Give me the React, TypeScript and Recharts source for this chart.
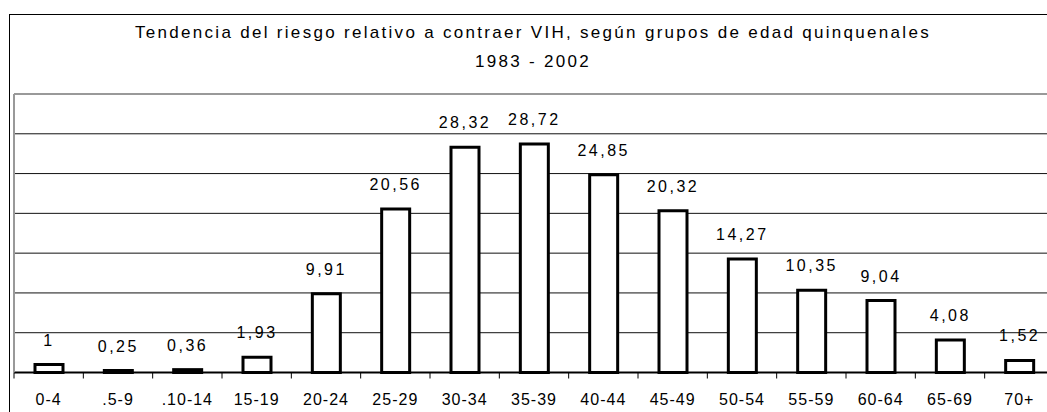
import React from "react";
import { BarChart, Bar, XAxis, YAxis, CartesianGrid, ReferenceLine, LabelList } from "recharts";

const titleLine1 = "Tendencia del riesgo relativo a contraer VIH, según grupos de edad quinquenales";
const titleLine2 = "1983 - 2002";

const categories = ["0-4", ".5-9", ".10-14", "15-19", "20-24", "25-29", "30-34", "35-39", "40-44", "45-49", "50-54", "55-59", "60-64", "65-69", "70+"];
const values = [1, 0.25, 0.36, 1.93, 9.91, 20.56, 28.32, 28.72, 24.85, 20.32, 14.27, 10.35, 9.04, 4.08, 1.52];
const yTicks = [0, 5, 10, 15, 20, 25, 30, 35];

const data = categories.map((c, i) => ({ name: c, value: values[i] }));

const FONT = "'Liberation Sans', Arial, Helvetica, sans-serif";
const CHART_W = 1070;
const CHART_H = 412;
const MARGIN = { top: 94, right: 16, bottom: 0, left: 13 };
const Y_W = 1;
const PLOT_W = CHART_W - MARGIN.left - MARGIN.right - Y_W;
const BAND = PLOT_W / categories.length;

const fmt = (v: number) => String(v).replace(".", ",");

const XTick = (props: any) => {
  const { x, y, payload } = props;
  const tx = x - BAND / 2;
  return (
    <g>
      <line x1={tx} x2={tx} y1={y} y2={y + 6} stroke="#000" strokeWidth={1} />
      <text x={x} y={y + 32.5} textAnchor="middle" fontFamily={FONT} fontSize={16} letterSpacing={1} fill="#000">
        {payload.value}
      </text>
    </g>
  );
};

const EmptyTick = () => <g />;

export default function App() {
  const top = yTicks[yTicks.length - 1];
  return (
    <div style={{ position: "fixed", left: 0, top: 0, width: 1047, height: 412, overflow: "hidden", background: "#fff" }}>
      <div style={{ position: "absolute", left: 9, top: 14, width: 1100, height: 450, border: "1px solid #000", boxSizing: "border-box" }} />
      <div style={{ position: "absolute", left: 33, top: 18, width: 1000, textAlign: "center", fontFamily: FONT, fontSize: 17, letterSpacing: 2.3, color: "#000", lineHeight: "29px" }}>
        <div>{titleLine1}</div>
        <div>{titleLine2}</div>
      </div>
      <div style={{ position: "absolute", left: 0, top: 0 }}>
        <BarChart width={CHART_W} height={CHART_H} data={data} margin={MARGIN} barSize={28}>
          <CartesianGrid vertical={false} stroke="#111" strokeWidth={1} />
          <XAxis
            dataKey="name"
            height={39.5}
            axisLine={{ stroke: "#000", strokeWidth: 2 }}
            tickLine={false}
            tickSize={0}
            tickMargin={0}
            interval={0}
            tick={<XTick />}
          />
          <YAxis
            width={Y_W}
            domain={[0, top]}
            ticks={yTicks}
            tick={<EmptyTick />}
            tickLine={false}
            axisLine={{ stroke: "#999", strokeWidth: 2 }}
          />
          <ReferenceLine y={top} stroke="#999" strokeWidth={2} />
          <Bar dataKey="value" fill="#fff" stroke="#000" strokeWidth={3} isAnimationActive={false}>
            <LabelList
              dataKey="value"
              position="top"
              offset={19}
              formatter={(v: any) => fmt(v)}
              style={{ fontFamily: FONT, fontSize: 16, letterSpacing: 2.5, fill: "#000" }}
            />
          </Bar>
        </BarChart>
      </div>
    </div>
  );
}
